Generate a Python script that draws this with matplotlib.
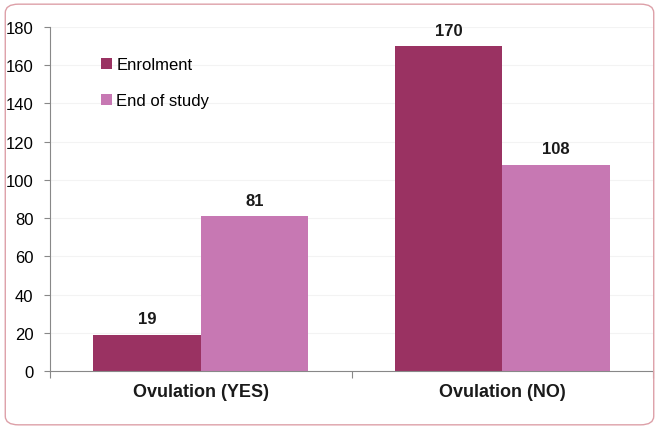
import matplotlib
matplotlib.use("Agg")
import matplotlib.pyplot as plt
from matplotlib.patches import FancyBboxPatch
import numpy as np

# データ
categories = ["Ovulation (YES)", "Ovulation (NO)"]
series_names = ["Enrolment", "End of study"]
enrolment = [19, 170]
end_of_study = [81, 108]
y_ticks = [0, 20, 40, 60, 80, 100, 120, 140, 160, 180]

COL_ENROL = "#9A3262"
COL_END = "#C778B3"

plt.rcParams["font.family"] = ["Liberation Sans", "DejaVu Sans"]

fig = plt.figure(figsize=(6.59, 4.31), dpi=100)
ax = fig.add_axes([0.076, 0.137, 0.915, 0.798])

x = np.arange(len(categories))
w = 0.357
b1 = ax.bar(x - w / 2, enrolment, w, color=COL_ENROL, label=series_names[0], zorder=2)
b2 = ax.bar(x + w / 2, end_of_study, w, color=COL_END, label=series_names[1], zorder=2)

# 値ラベル
for bars in (b1, b2):
    for r in bars:
        ax.annotate(f"{int(r.get_height())}",
                    (r.get_x() + r.get_width() / 2, r.get_height()),
                    xytext=(0, 6), textcoords="offset points",
                    ha="center", va="bottom", fontsize=12, fontweight="bold",
                    color="#1a1a1a")

ax.set_xlim(-0.5, 1.5)
ax.set_ylim(0, 180)
ax.set_yticks(y_ticks)
ax.tick_params(axis="y", labelsize=12, length=4, color="#888888", pad=8)

# x軸: カテゴリ境界に目盛り、ラベルは中央
ax.set_xticks([-0.5, 0.5, 1.5])
ax.set_xticklabels([])
ax.tick_params(axis="x", length=5, color="#888888")
for xi, c in zip(x, categories):
    ax.text(xi, -0.06, c, transform=ax.get_xaxis_transform(),
            ha="center", va="center", fontsize=13, fontweight="bold", color="#1a1a1a")

ax.grid(axis="y", color="#f3f3f3", lw=0.8, zorder=0)
for s in ("top", "right"):
    ax.spines[s].set_visible(False)
for s in ("left", "bottom"):
    ax.spines[s].set_color("#888888")

ax.legend(loc="upper left", bbox_to_anchor=(0.06, 0.955), frameon=False, fontsize=12,
          handlelength=0.65, handleheight=0.65, handletextpad=0.25, labelspacing=1.25)

# 外枠（角丸）
border = FancyBboxPatch((0.008, 0.012), 0.984, 0.976,
                        boxstyle="round,pad=0,rounding_size=0.02",
                        transform=fig.transFigure, fill=False,
                        ec="#DDA0A8", lw=1.0)
fig.patches.append(border)

fig.savefig("out.png", dpi=100)
